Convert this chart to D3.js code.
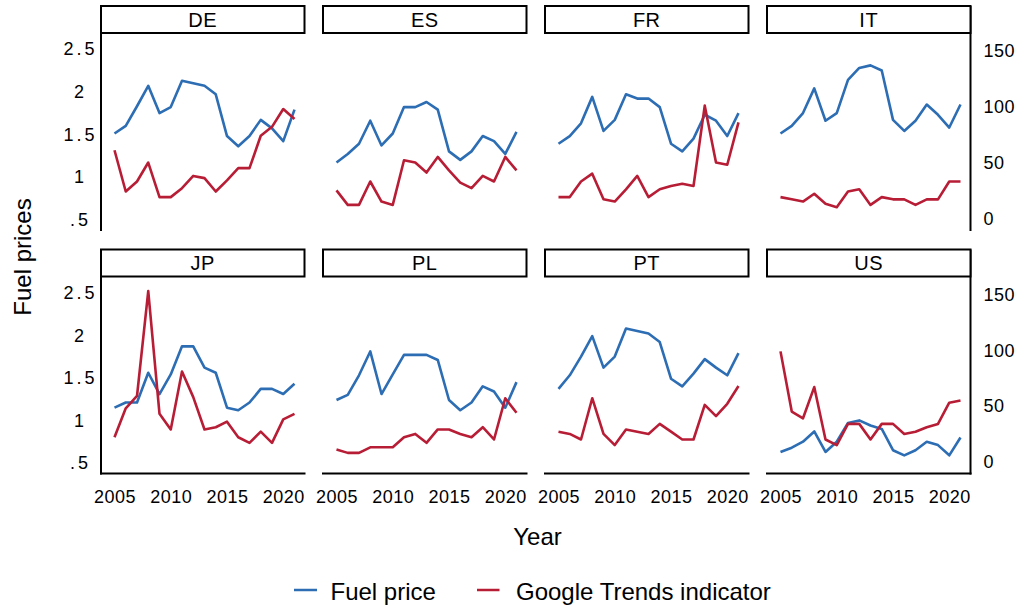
<!DOCTYPE html>
<html>
<head>
<meta charset="utf-8">
<script src="https://cdn.jsdelivr.net/npm/d3@7"></script>
<style>
  body { margin: 0; background: #fff; }
  text { font-family: "Liberation Sans", Arial, sans-serif; fill: #000; }
</style>
</head>
<body>
<div id="chart"></div>
<script>
var years = [2005, 2006, 2007, 2008, 2009, 2010, 2011, 2012, 2013, 2014, 2015, 2016, 2017, 2018, 2019, 2020, 2021];
var countries = ["DE", "ES", "FR", "IT", "JP", "PL", "PT", "US"];

// fuel price (left axis)
var fuelDE = [1.51, 1.60, 1.83, 2.07, 1.75, 1.82, 2.13, 2.10, 2.07, 1.97, 1.48, 1.36, 1.48, 1.67, 1.57, 1.42, 1.79];
var fuelES = [1.17, 1.27, 1.39, 1.66, 1.37, 1.51, 1.82, 1.82, 1.88, 1.79, 1.30, 1.20, 1.30, 1.48, 1.42, 1.27, 1.53];
var fuelFR = [1.39, 1.48, 1.63, 1.94, 1.54, 1.67, 1.97, 1.92, 1.92, 1.82, 1.39, 1.30, 1.45, 1.73, 1.66, 1.48, 1.75];
var fuelIT = [1.51, 1.60, 1.75, 2.04, 1.66, 1.75, 2.14, 2.28, 2.31, 2.25, 1.67, 1.54, 1.66, 1.85, 1.73, 1.58, 1.85];
var fuelJP = [1.15, 1.21, 1.21, 1.56, 1.31, 1.54, 1.87, 1.87, 1.62, 1.56, 1.15, 1.12, 1.21, 1.37, 1.37, 1.31, 1.43];
var fuelPL = [1.24, 1.30, 1.53, 1.81, 1.31, 1.54, 1.77, 1.77, 1.77, 1.71, 1.24, 1.12, 1.21, 1.40, 1.34, 1.15, 1.45];
var fuelPT = [1.37, 1.53, 1.75, 1.99, 1.62, 1.75, 2.08, 2.05, 2.02, 1.92, 1.49, 1.40, 1.55, 1.72, 1.62, 1.53, 1.79];
var fuelUS = [0.63, 0.68, 0.75, 0.87, 0.63, 0.75, 0.97, 1.00, 0.94, 0.90, 0.65, 0.59, 0.65, 0.75, 0.71, 0.59, 0.80];

// Google Trends indicator (right axis)
var trendsDE = [61, 24, 33, 50, 19, 19, 27, 38, 36, 24, 34, 45, 45, 74, 82, 98, 89];
var trendsES = [25, 12, 12, 33, 15, 12, 52, 50, 41, 55, 43, 32, 27, 38, 33, 55, 43];
var trendsFR = [19, 19, 33, 40, 17, 15, 26, 38, 19, 26, 29, 31, 29, 101, 50, 48, 86];
var trendsIT = [19, 17, 15, 22, 13, 10, 24, 26, 12, 19, 17, 17, 12, 17, 17, 33, 33];
var trendsJP = [22, 48, 59, 153, 43, 29, 81, 58, 29, 31, 36, 22, 17, 27, 17, 38, 43];
var trendsPL = [11, 8, 8, 13, 13, 13, 22, 25, 17, 29, 29, 25, 22, 31, 20, 57, 44];
var trendsPT = [27, 25, 20, 57, 25, 15, 29, 27, 25, 34, 27, 20, 20, 51, 41, 52, 68];
var trendsUS = [99, 45, 39, 67, 20, 15, 34, 34, 20, 34, 34, 25, 27, 31, 34, 53, 55];

var leftTicks = [0.5, 1, 1.5, 2, 2.5];
var leftTickLabels = [".5", "1", "1.5", "2", "2.5"];
var rightTicks = [0, 50, 100, 150];
var xTicks = [2005, 2010, 2015, 2020];

var fuel = { DE: fuelDE, ES: fuelES, FR: fuelFR, IT: fuelIT, JP: fuelJP, PL: fuelPL, PT: fuelPT, US: fuelUS };
var trends = { DE: trendsDE, ES: trendsES, FR: trendsFR, IT: trendsIT, JP: trendsJP, PL: trendsPL, PT: trendsPT, US: trendsUS };

var blue = "#2c6db3", red = "#b81d36";

var W = 1020, H = 607;
var panelW = 203.5, colStep = 222, rowStep = 243.5, left0 = 101;
var headTop = 6, headBot = 33, plotBot = 230;

var xscale = d3.scaleLinear().domain([2005, 2021]).range([13.5, 193.5]);
var yleft = d3.scaleLinear().domain([0.5, 2.5]).range([219.5, 49.2]);
var yright = d3.scaleLinear().domain([0, 150]).range([218.3, 51]);

var svg = d3.select("#chart").append("svg")
    .attr("width", W)
    .attr("height", H);

countries.forEach(function (c, i) {
    var col = i % 4, row = Math.floor(i / 4);
    var g = svg.append("g")
        .attr("transform", "translate(" + (left0 + col * colStep) + "," + (row * rowStep) + ")");

    var fuelLine = d3.line()
        .x(function (d, j) { return xscale(years[j]); })
        .y(function (d) { return yleft(d); });
    var trendLine = d3.line()
        .x(function (d, j) { return xscale(years[j]); })
        .y(function (d) { return yright(d); });

    g.append("path")
        .datum(fuel[c])
        .attr("d", fuelLine)
        .attr("fill", "none")
        .attr("stroke", blue)
        .attr("stroke-width", 2.6)
        .attr("stroke-linejoin", "round");

    g.append("path")
        .datum(trends[c])
        .attr("d", trendLine)
        .attr("fill", "none")
        .attr("stroke", red)
        .attr("stroke-width", 2.6)
        .attr("stroke-linejoin", "round");

    // left axis (first column)
    if (col === 0) {
        var ax = g.append("g")
            .call(d3.axisLeft(yleft).tickValues(leftTicks)
                .tickFormat(function (d, k) { return leftTickLabels[k]; })
                .tickSize(0).tickPadding(0));
        ax.select(".domain").remove();
        ax.selectAll("text")
            .attr("x", -20.5)
            .attr("text-anchor", "middle")
            .style("font-size", "18px")
            .style("font-family", "Liberation Sans, Arial, sans-serif")
            .style("letter-spacing", "3px");
        g.append("line")
            .attr("x1", 0).attr("x2", 0)
            .attr("y1", headTop).attr("y2", plotBot + 1)
            .attr("stroke", "#000").attr("stroke-width", 2);
    }

    // right axis (last column)
    if (col === 3) {
        var ar = g.append("g")
            .attr("transform", "translate(" + panelW + ",0)")
            .call(d3.axisRight(yright).tickValues(rightTicks)
                .tickSize(0).tickPadding(13));
        ar.select(".domain").remove();
        ar.selectAll("text")
            .style("font-size", "18px")
            .style("font-family", "Liberation Sans, Arial, sans-serif")
            .style("letter-spacing", "0.5px");
        g.append("line")
            .attr("x1", panelW).attr("x2", panelW)
            .attr("y1", headTop).attr("y2", plotBot + 1)
            .attr("stroke", "#000").attr("stroke-width", 2);
    }

    // bottom axis (second row)
    if (row === 1) {
        var ab = g.append("g")
            .attr("transform", "translate(0," + plotBot + ")")
            .call(d3.axisBottom(xscale).tickValues(xTicks)
                .tickFormat(d3.format("d"))
                .tickSize(0).tickPadding(0));
        ab.select(".domain").remove();
        ab.selectAll("text")
            .attr("y", 29.5)
            .attr("dy", null)
            .style("font-size", "18px")
            .style("font-family", "Liberation Sans, Arial, sans-serif")
            .style("letter-spacing", "0.5px");
        g.append("line")
            .attr("x1", -1).attr("x2", panelW + 1)
            .attr("y1", plotBot).attr("y2", plotBot)
            .attr("stroke", "#000").attr("stroke-width", 2);
    }

    // header box
    g.append("rect")
        .attr("x", 0).attr("y", headTop)
        .attr("width", panelW).attr("height", headBot - headTop)
        .attr("fill", "#fff")
        .attr("stroke", "#000")
        .attr("stroke-width", 2);
    g.append("text")
        .attr("x", panelW / 2)
        .attr("y", 26.5)
        .attr("text-anchor", "middle")
        .style("font-size", "20px")
        .style("letter-spacing", "0.5px")
        .text(c);
});

// Y label
svg.append("text")
    .attr("text-anchor", "middle")
    .attr("transform", "translate(31,257)rotate(-90)")
    .style("font-size", "24px")
    .text("Fuel prices");

// X label
svg.append("text")
    .attr("x", 537.5)
    .attr("y", 545)
    .attr("text-anchor", "middle")
    .style("font-size", "24px")
    .text("Year");

// legend
var legend = [
    { label: "Fuel price", color: blue, x1: 294, x2: 317, tx: 330.5 },
    { label: "Google Trends indicator", color: red, x1: 477, x2: 499.5, tx: 516 }
];
legend.forEach(function (d) {
    svg.append("line")
        .attr("x1", d.x1).attr("x2", d.x2)
        .attr("y1", 590).attr("y2", 590)
        .attr("stroke", d.color).attr("stroke-width", 2.5);
    svg.append("text")
        .attr("x", d.tx).attr("y", 599.5)
        .style("font-size", "24px")
        .text(d.label);
});
</script>
</body>
</html>
